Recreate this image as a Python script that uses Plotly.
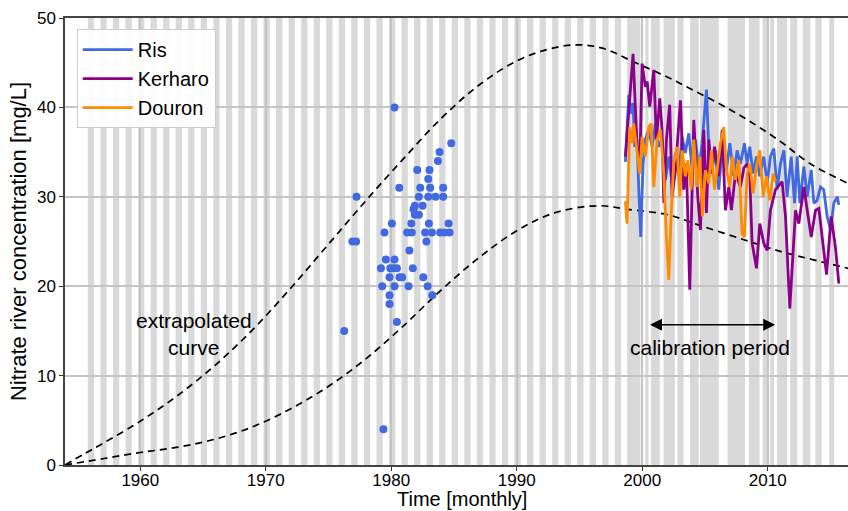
import plotly.graph_objects as go

# ---------------- data ----------------
ris_t = [1998.66, 1998.93, 1999.11, 1999.27, 1999.40, 1999.59, 1999.72, 1999.88, 2000.07, 2000.25,
         2000.52, 2000.79, 2001.05, 2001.32, 2001.58, 2001.85, 2002.12, 2002.38, 2002.65, 2002.91,
         2003.18, 2003.44, 2003.71, 2003.98, 2004.24, 2004.51, 2004.77, 2005.12, 2005.31, 2005.57,
         2005.84, 2006.10, 2006.37, 2006.71, 2006.98, 2007.30, 2007.56, 2007.83, 2008.15, 2008.36,
         2008.57, 2008.84, 2009.11, 2009.37, 2009.69, 2009.96, 2010.22, 2010.49, 2010.75, 2011.02,
         2011.29, 2011.55, 2011.87, 2012.14, 2012.35, 2012.56, 2012.88, 2013.15, 2013.47, 2013.68,
         2013.94, 2014.21, 2014.47, 2014.74, 2015.01, 2015.27, 2015.54, 2015.67]
ris_v = [33.9, 41.4, 39.3, 40.5, 35.6, 36.4, 31.1, 25.5, 33.7, 36.4,
         37.5, 35.6, 38.2, 35.6, 36.4, 31.9, 34.5, 31.5, 34.9, 32.3,
         36.7, 34.9, 37.1, 33.0, 36.4, 33.0, 36.0, 42.0, 35.2, 33.0,
         35.2, 30.8, 35.6, 33.0, 36.0, 32.3, 35.2, 33.7, 36.0, 33.7,
         35.6, 32.6, 34.5, 32.3, 34.5, 31.5, 34.5, 35.4, 30.8, 33.7,
         35.2, 30.0, 34.5, 29.3, 34.5, 29.3, 33.4, 30.0, 33.0, 29.3,
         29.6, 31.1, 30.8, 27.8, 26.3, 29.3, 30.0, 29.1]

ker_t = [1998.66, 1999.27, 1999.59, 1999.80, 1999.99, 2000.25, 2000.39, 2000.60, 2000.92, 2001.13,
         2001.40, 2001.58, 2001.72, 2001.93, 2002.19, 2002.38, 2002.65, 2003.05, 2003.31, 2003.52,
         2003.79, 2004.11, 2004.43, 2004.64, 2004.91, 2005.12, 2005.31, 2005.52, 2005.76, 2006.10,
         2006.37, 2006.63, 2006.90, 2007.11, 2007.43, 2007.83, 2008.10, 2008.36, 2008.57, 2008.76,
         2009.11, 2009.37, 2009.69, 2009.96, 2010.22, 2010.62, 2011.15, 2011.42, 2011.76, 2011.95,
         2012.22, 2012.48, 2012.88, 2013.15, 2013.47, 2013.81, 2014.08, 2014.34, 2014.69, 2015.06,
         2015.41, 2015.67]
ker_v = [34.5, 46.0, 35.6, 33.0, 44.9, 42.3, 42.9, 40.1, 44.2, 36.4,
         41.0, 37.5, 29.3, 36.4, 40.3, 30.0, 33.0, 40.8, 30.8, 33.7,
         19.6, 38.6, 30.0, 26.3, 37.5, 28.2, 36.4, 32.6, 35.6, 32.3,
         37.5, 28.5, 31.1, 28.5, 32.6, 31.1, 33.2, 33.7, 32.3, 24.8,
         22.0, 27.0, 24.8, 24.0, 28.5, 30.8, 31.7, 27.8, 17.5, 22.6,
         28.5, 27.0, 31.1, 28.5, 25.5, 28.5, 28.7, 25.5, 21.3, 27.8,
         24.2, 20.3]

dou_t = [1998.66, 1998.79, 1999.01, 1999.19, 1999.32, 1999.54, 1999.80, 1999.99, 2000.25, 2000.52,
         2000.71, 2000.92, 2001.19, 2001.45, 2001.72, 2001.93, 2002.12, 2002.30, 2002.51, 2002.78,
         2002.99, 2003.18, 2003.44, 2003.63, 2003.90, 2004.11, 2004.37, 2004.59, 2004.80, 2005.04,
         2005.31, 2005.52, 2005.76, 2005.97, 2006.24, 2006.50, 2006.71, 2006.98, 2007.19, 2007.43,
         2007.70, 2007.96, 2008.15, 2008.36, 2008.57, 2008.84, 2009.11, 2009.37, 2009.64, 2009.90,
         2010.17, 2010.43, 2010.62]
dou_v = [29.5, 27.0, 37.8, 36.0, 38.2, 35.6, 32.6, 36.7, 34.5, 37.8,
         38.2, 31.1, 36.4, 37.5, 32.6, 25.5, 20.7, 27.8, 33.7, 35.6,
         30.0, 35.2, 32.3, 34.1, 30.8, 36.4, 31.1, 34.5, 27.8, 33.0,
         31.5, 35.2, 30.8, 33.0, 36.0, 37.8, 33.0, 31.1, 34.5, 31.9,
         34.1, 25.9, 25.5, 32.6, 33.7, 30.4, 33.4, 35.2, 30.0, 32.3,
         29.6, 32.6, 31.7]

obs_t = [1980.26, 1984.78, 1983.85, 1983.72, 1982.07, 1983.05, 1982.95, 1980.64, 1982.31, 1983.10,
         1984.14, 1977.23, 1982.20, 1982.95, 1983.53, 1984.14, 1981.88, 1981.77, 1982.50, 1981.88,
         1982.20, 1980.05, 1981.60, 1983.00, 1984.57, 1979.46, 1981.27, 1981.64, 1982.70, 1983.24,
         1983.90, 1984.25, 1984.65, 1976.90, 1977.20, 1982.80, 1981.45, 1979.57, 1980.26, 1979.18,
         1979.92, 1980.18, 1980.45, 1981.72, 1979.86, 1980.66, 1980.87, 1982.55, 1979.28, 1980.26,
         1981.38, 1982.90, 1979.86, 1983.27, 1979.86, 1980.45, 1976.25, 1979.38]
obs_v = [40.0, 36.0, 35.0, 34.0, 33.0, 33.0, 32.0, 31.0, 31.0, 31.0,
         31.0, 30.0, 30.0, 30.0, 30.0, 30.0, 29.0, 28.6, 29.0, 28.0,
         28.0, 27.0, 27.0, 27.0, 27.0, 26.0, 26.0, 26.0, 26.0, 26.0,
         26.0, 26.0, 26.0, 25.0, 25.0, 25.0, 24.0, 23.0, 23.0, 22.0,
         22.0, 22.0, 22.0, 22.0, 21.0, 21.0, 21.0, 21.0, 20.0, 20.0,
         20.0, 20.0, 19.0, 19.0, 18.0, 16.0, 15.0, 4.0]

upper_t = [1954.0, 1955.6, 1957.0, 1960.0, 1963.0, 1966.0, 1969.0, 1972.0, 1975.0, 1978.0,
           1981.0, 1984.0, 1987.0, 1990.0, 1992.5, 1994.8, 1996.9, 1999.3, 2002.0, 2004.1,
           2006.3, 2008.4, 2011.0, 2013.4, 2016.4]
upper_v = [0.0, 1.3, 2.4, 4.9, 7.8, 11.2, 15.2, 19.8, 24.7, 29.6,
           34.3, 38.8, 42.5, 45.2, 46.5, 47.0, 46.6, 45.1, 43.4, 41.9,
           40.3, 38.6, 36.2, 33.7, 31.5]
lower_t = [1954.0, 1957.0, 1960.0, 1963.0, 1966.0, 1969.0, 1972.0, 1975.0, 1978.0, 1981.0,
           1984.0, 1987.0, 1990.0, 1993.0, 1996.5, 1998.8, 2002.0, 2004.6, 2008.1, 2011.0,
           2013.5, 2016.4]
lower_v = [0.0, 0.7, 1.4, 2.0, 2.9, 4.3, 6.3, 8.8, 11.9, 15.6,
           19.6, 23.2, 26.2, 28.2, 29.0, 28.6, 28.0, 26.8, 25.2, 23.9,
           23.0, 22.0]

stripe_start = [1955.82, 1956.82, 1957.82, 1958.82, 1959.82, 1960.82, 1961.82, 1962.82, 1963.82, 1964.82,
                1965.82, 1966.82, 1967.82, 1968.82, 1969.82, 1970.82, 1971.82, 1972.82, 1973.82, 1974.82,
                1975.82, 1976.82, 1977.82, 1978.82, 1979.82, 1980.82, 1981.82, 1982.82, 1983.82, 1984.82,
                1985.82, 1986.82, 1987.82, 1988.82, 1989.82, 1990.82, 1991.82, 1992.82, 1993.82, 1994.82,
                1995.82, 1996.82, 1997.82, 1998.80, 2000.25, 2000.70, 2001.70, 2002.80, 2003.80, 2004.60,
                2006.80, 2008.50, 2009.60, 2010.20, 2010.75, 2011.80, 2012.80, 2013.80, 2014.90]
stripe_end = [1956.32, 1957.32, 1958.32, 1959.32, 1960.32, 1961.32, 1962.32, 1963.32, 1964.32, 1965.32,
              1966.32, 1967.32, 1968.32, 1969.32, 1970.32, 1971.32, 1972.32, 1973.32, 1974.32, 1975.32,
              1976.32, 1977.32, 1978.32, 1979.32, 1980.32, 1981.32, 1982.32, 1983.32, 1984.32, 1985.32,
              1986.32, 1987.32, 1988.32, 1989.32, 1990.32, 1991.32, 1992.32, 1993.32, 1994.32, 1995.32,
              1996.32, 1997.32, 1998.32, 1999.85, 2000.50, 2001.40, 2002.60, 2003.30, 2004.50, 2006.10,
              2008.20, 2009.35, 2010.00, 2010.50, 2011.55, 2012.35, 2013.40, 2014.30, 2015.30]

x_ticks = [1960, 1970, 1980, 1990, 2000, 2010]
y_ticks = [0, 10, 20, 30, 40, 50]

# ---------------- figure ----------------
FONT = "Liberation Sans, Arial, Helvetica, sans-serif"
C_RIS = "#4169e1"
C_KER = "#8b008b"
C_DOU = "#ff8c00"

fig = go.Figure()

dash_line = dict(color="black", width=1.7, dash="7px,5px", shape="spline", smoothing=1.0)
fig.add_trace(go.Scatter(x=upper_t, y=upper_v, mode="lines", line=dash_line, showlegend=False, hoverinfo="skip"))
fig.add_trace(go.Scatter(x=lower_t, y=lower_v, mode="lines", line=dash_line, showlegend=False, hoverinfo="skip"))
fig.add_trace(go.Scatter(x=obs_t, y=obs_v, mode="markers", marker=dict(color=C_RIS, size=8),
                         showlegend=False))
fig.add_trace(go.Scatter(x=ris_t, y=ris_v, mode="lines", name="Ris", line=dict(color=C_RIS, width=2.8)))
fig.add_trace(go.Scatter(x=ker_t, y=ker_v, mode="lines", name="Kerharo", line=dict(color=C_KER, width=2.8)))
fig.add_trace(go.Scatter(x=dou_t, y=dou_v, mode="lines", name="Douron", line=dict(color=C_DOU, width=2.8)))

shapes = []
for s, e in zip(stripe_start, stripe_end):
    shapes.append(dict(type="rect", xref="x", yref="paper", x0=s, x1=e, y0=0, y1=1,
                       fillcolor="#d9d9d9", line=dict(width=0), layer="below"))

fig.update_layout(
    width=848, height=511,
    margin=dict(l=65, r=0, t=18, b=46),
    paper_bgcolor="white", plot_bgcolor="white",
    font=dict(family=FONT, size=17, color="black"),
    shapes=shapes,
    showlegend=True,
    legend=dict(x=0.015, y=0.975, xanchor="left", yanchor="top",
                bgcolor="rgba(255,255,255,0.92)", bordercolor="#cccccc", borderwidth=1,
                font=dict(family=FONT, size=20, color="black"), itemwidth=50),
    xaxis=dict(range=[1954, 2016.4], tickvals=x_ticks, ticks="outside", ticklen=4, tickcolor="#333",
               showgrid=True, gridcolor="#c4c4c4", gridwidth=1.5, zeroline=False,
               showline=True, linecolor="#444", linewidth=1.5, mirror=True,
               tickfont=dict(size=17), ticklabelstandoff=-5),
    yaxis=dict(range=[0, 50], tickvals=y_ticks, ticks="outside", ticklen=4, tickcolor="#333",
               showgrid=True, gridcolor="#c4c4c4", gridwidth=1.5, zeroline=False,
               showline=True, linecolor="#444", linewidth=1.5,
               tickfont=dict(size=17),
               title=dict(text="Nitrate river concentration [mg/L]", font=dict(size=22), standoff=4)),
    annotations=[
        dict(x=0.507, y=0, xref="paper", yref="paper", yanchor="top", yshift=-21,
             text="Time [monthly]", showarrow=False, font=dict(size=20)),
        dict(x=1964.3, y=14.6, xref="x", yref="y", text="extrapolated<br>curve", showarrow=False,
             font=dict(size=21), align="center"),
        dict(x=2005.4, y=13.1, xref="x", yref="y", text="calibration period", showarrow=False,
             font=dict(size=21)),
        dict(x=2010.6, y=15.7, ax=2000.5, ay=15.7, xref="x", yref="y", axref="x", ayref="y",
             text="", showarrow=True, arrowhead=2, arrowside="end+start", arrowsize=1.6,
             arrowwidth=1.5, arrowcolor="black"),
    ],
)

fig.write_html("out.html")
